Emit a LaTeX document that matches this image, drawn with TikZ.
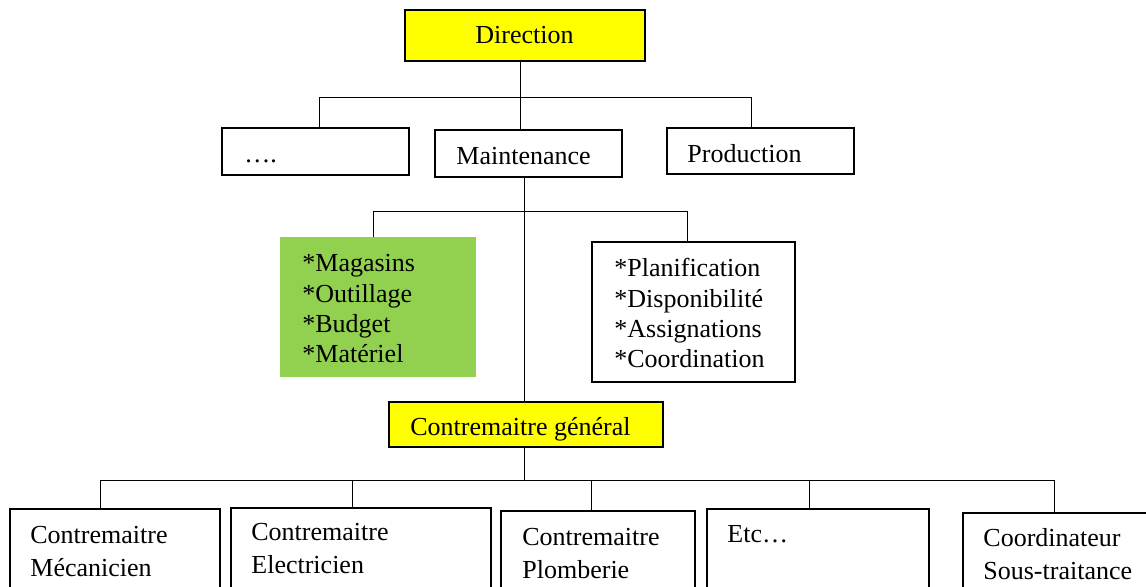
\documentclass[tikz,border=0pt]{standalone}
\usepackage{fontspec}
\setmainfont{Liberation Serif}
\usepackage{tikz}
\usetikzlibrary{positioning, fit}
\definecolor{cYellow}{RGB}{255,255,0}
\definecolor{cGreen}{RGB}{146,208,80}
\tikzset{
	box/.style     ={rectangle, draw=black, line width=0.55pt, inner sep=0pt},
	hibox/.style   ={box, fill=cYellow},
	greenbox/.style={rectangle, fill=cGreen, inner sep=0pt},
	txt/.style     ={anchor=base west, inner sep=0pt, align=left},
	link/.style    ={line width=0.45pt},
}
\begin{document}
\begin{tikzpicture}[x=0.5pt, y=-0.5pt, font=\fontsize{13pt}{15.2pt}\selectfont]
	\useasboundingbox (0,0) rectangle (1146,587);
	\clip (0,0) rectangle (1146,587);
	% boxes
	\node[hibox, fit={(405,10) (645,61)}] (dir) {};
	\node[box, fit={(222,128) (409,175)}] (dots) {};
	\node[box, fit={(435,130) (622,177)}] (maint) {};
	\node[box, fit={(667,128) (854,174)}] (prod) {};
	\node[greenbox, fit={(280,237) (476,377)}] (store) {};
	\node[box, fit={(592,242) (795,382)}] (plan) {};
	\node[hibox, fit={(389,402) (663,447)}] (gen) {};
	\node[box, fit={(10,509) (220,620)}] (fm) {};
	\node[box, fit={(231,508) (491,620)}] (fe) {};
	\node[box, fit={(501,511) (695,620)}] (fp) {};
	\node[box, fit={(707,509) (929,620)}] (etc) {};
	\node[box, fit={(963,513) (1170,620)}] (cs) {};
	% texts (base = last line)
	\node[txt] at (475,44) {Direction};
	\node[txt] at (244,163) {….};
	\node[txt] at (456,165) {Maintenance};
	\node[txt] at (687,163) {Production};
	\node[txt] at (302,363) {*Magasins\\*Outillage\\*Budget\\*Matériel};
	\node[txt] at (614,368) {*Planification\\*Disponibilité\\*Assignations\\*Coordination};
	\node[txt] at (410,436) {Contremaitre général};
	\node[txt] at (30,576) {Contremaitre\\[1pt]Mécanicien};
	\node[txt] at (251,573) {Contremaitre\\[1pt]Electricien};
	\node[txt] at (522,578) {Contremaitre\\[1pt]Plomberie};
	\node[txt] at (727,543) {Etc…};
	\node[txt] at (983,579) {Coordinateur\\[1pt]Sous-traitance};
	% connectors
	\coordinate (b1L) at (319,97);
	\coordinate (b1M) at (520,97);
	\coordinate (b1R) at (751,97);
	\draw[link] (dir.south -| b1M) -- (b1M |- maint.north);
	\draw[link] (b1L |- dots.north) -- (b1L) -- (b1R) -- (b1R |- prod.north);
	\coordinate (b2L) at (373,211);
	\coordinate (b2M) at (524,211);
	\coordinate (b2R) at (687,211);
	\draw[link] (maint.south -| b2M) -- (b2M |- gen.north);
	\draw[link] (b2L |- store.north) -- (b2L) -- (b2R) -- (b2R |- plan.north);
	\coordinate (b3M) at (524,480);
	\draw[link] (gen.south -| b3M) -- (b3M);
	\foreach \x/\n in {100/fm, 352/fe, 591/fp, 809/etc, 1054/cs} {
		\coordinate (t\n) at (\x,480);
		\draw[link] (t\n) -- (t\n |- \n.north);
	}
	\draw[link] (tfm) -- (tcs);
\end{tikzpicture}
\end{document}
